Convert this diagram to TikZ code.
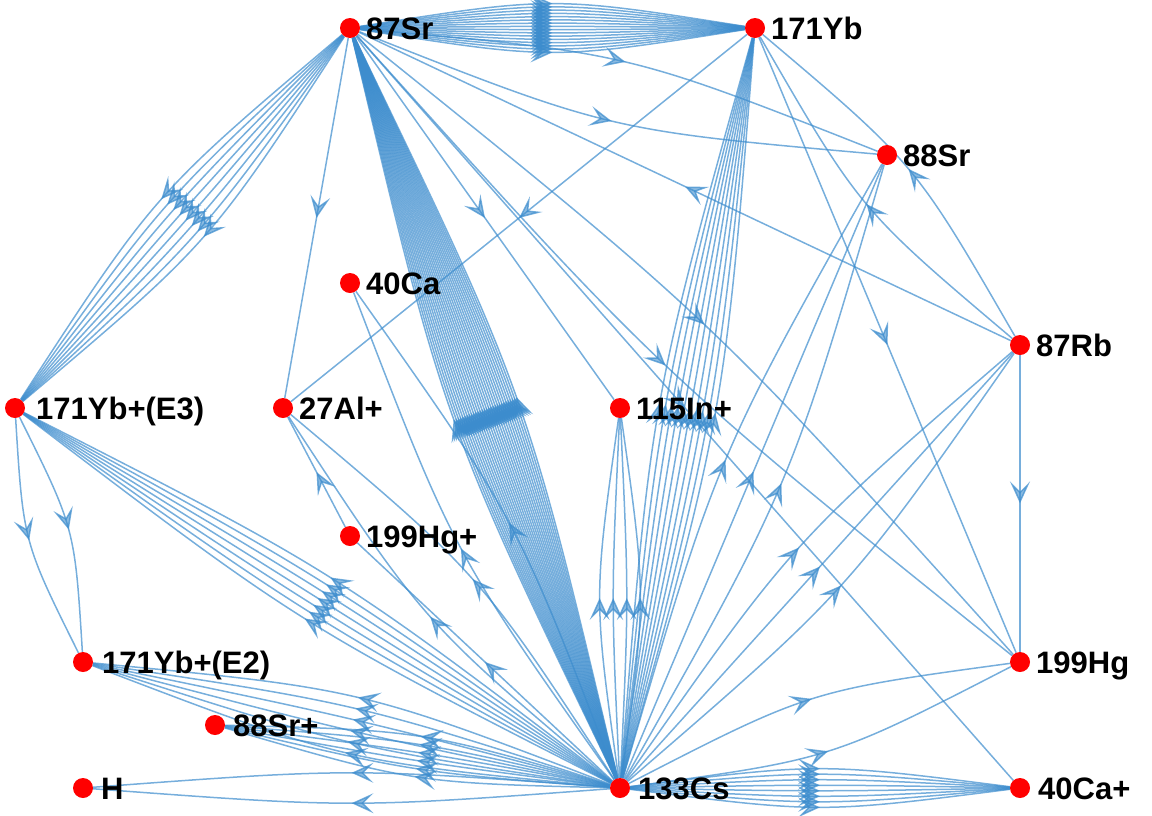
\documentclass[tikz,border=0pt]{standalone}
\usepackage{fontspec}
\setmainfont{Liberation Sans}
\usetikzlibrary{calc,arrows.meta,decorations.markings}
\definecolor{edgec}{RGB}{60,140,205}
\definecolor{dotc}{RGB}{255,0,0}
\pgfdeclarelayer{bg}
\pgfsetlayers{bg,main}
\tikzset{
  ed/.style={draw=edgec, line width=1.5pt, draw opacity=0.7,
    postaction={decorate},
    decoration={markings, mark=at position 0.5 with
      {\arrow[fill=edgec, fill opacity=0.6, draw=none]{Stealth[length=22pt,width=20pt,inset=10pt]}}}},
  dot/.style={circle, fill=dotc, draw=none, minimum size=20pt, inner sep=0pt},
  lbl/.style={anchor=base west, font=\bfseries\fontsize{31}{31}\selectfont, inner sep=0pt},
}
% a fan of #3 edges from #1 to #2, bowed over +-#4 pt at the middle
\newcommand\fan[4]{%
  \foreach \k in {1,...,#3}{%
    \pgfmathsetmacro\hh{4/3*(-#4+2*#4*(\k-1)/(#3-1))}%
    \draw[ed] (#1) .. controls ($(#1)!0.5!(#2)!\hh pt!90:(#2)$) .. (#2);}}
\begin{document}
\begin{tikzpicture}[x=1pt,y=-1pt]
\useasboundingbox (0,0) rectangle (1152,815);
% clocks
\node[dot] (Sr87) at (350,28) {};
\node[dot] (Yb171) at (755,28) {};
\node[dot] (Sr88) at (887,155) {};
\node[dot] (Ca40) at (350,283) {};
\node[dot] (Rb87) at (1020,345) {};
\node[dot] (YbE3) at (15,408) {};
\node[dot] (Al27) at (283,408) {};
\node[dot] (In115) at (620,408) {};
\node[dot] (Hg199i) at (350,536) {};
\node[dot] (YbE2) at (83,662) {};
\node[dot] (Hg199) at (1020,662) {};
\node[dot] (Sr88i) at (215,725) {};
\node[dot] (H) at (83,788) {};
\node[dot] (Cs) at (620,788) {};
\node[dot] (Ca40i) at (1020,788) {};
% labels
\node[lbl] (lSr87) at (366,39) {87Sr};
\node[lbl] (lYb171) at (771,39) {171Yb};
\node[lbl] (lSr88) at (903,166) {88Sr};
\node[lbl] (lCa40) at (366,294) {40Ca};
\node[lbl] (lRb87) at (1036,356) {87Rb};
\node[lbl] (lYbE3) at (36,419) {171Yb+(E3)};
\node[lbl] (lAl27) at (299,419) {27Al+};
\node[lbl] (lIn115) at (636,419) {115In+};
\node[lbl] (lHg199i) at (366,547) {199Hg+};
\node[lbl] (lYbE2) at (102,673) {171Yb+(E2)};
\node[lbl] (lHg199) at (1036,673) {199Hg};
\node[lbl] (lSr88i) at (233,736) {88Sr+};
\node[lbl] (lH) at (101,799) {H};
\node[lbl] (lCs) at (638,799) {133Cs};
\node[lbl] (lCa40i) at (1038,799) {40Ca+};
\begin{pgfonlayer}{bg}
% repeated comparisons
\fan{Sr87}{Yb171}{16}{24}
\fan{Sr87}{YbE3}{8}{28}
\fan{Cs}{Sr87}{30}{33}
\fan{Cs}{YbE3}{7}{24}
\fan{Cs}{YbE2}{6}{28}
\fan{Cs}{Sr88i}{6}{20}
\fan{Cs}{H}{2}{15}
\fan{Cs}{Ca40i}{8}{19}
\fan{Cs}{Hg199}{2}{27}
\fan{Cs}{Rb87}{3}{28}
\fan{Cs}{Sr88}{3}{30}
\fan{Cs}{Yb171}{10}{28}
\fan{Cs}{In115}{4}{20}
\fan{Cs}{Al27}{2}{28}
\fan{Cs}{Ca40}{2}{27}
\fan{Sr87}{Sr88}{2}{30}
\fan{Sr87}{Hg199}{2}{28}
\fan{Rb87}{Yb171}{2}{27}
\fan{YbE3}{YbE2}{2}{20}
% single comparisons
\draw[ed] (Rb87) -- (Sr87);
\draw[ed] (Sr87) -- (In115);
\draw[ed] (Sr87) -- (Al27);
\draw[ed] (Yb171) -- (Al27);
\draw[ed] (Yb171) -- (Hg199);
\draw[ed] (Rb87) -- (Hg199);
\draw[ed] (Sr87) -- (Ca40i);
\draw[ed] (Hg199i) -- (Al27);
\draw[ed] (Cs) -- (Hg199i);
\end{pgfonlayer}
\end{tikzpicture}
\end{document}
